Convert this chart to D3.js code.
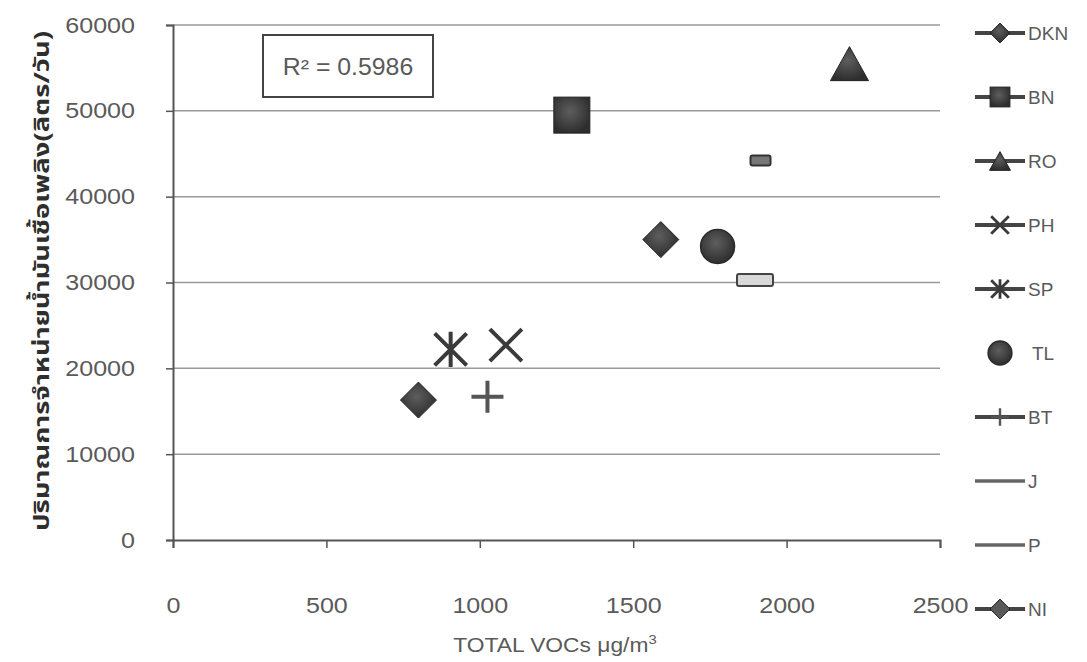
<!DOCTYPE html>
<html>
<head>
<meta charset="utf-8">
<script src="https://cdn.jsdelivr.net/npm/d3@7"></script>
<style>
  html, body { margin: 0; padding: 0; background: #fff; }
  svg { display: block; }
  text { font-family: "Liberation Sans", Arial, sans-serif; }
</style>
</head>
<body>
<svg id="chart" width="1087" height="662"></svg>
<script>
// ---- data ----
const seriesNames = ["DKN", "BN", "RO", "PH", "SP", "TL", "BT", "J", "P", "NI"];
const totalVOCs   = [1590, 1300, 2205, 1085, 905, 1775, 1025, 1915, 1897, 800];
const fuelSales   = [35000, 49500, 55500, 22700, 22200, 34200, 16700, 44200, 30300, 16300];
const xTicks = [0, 500, 1000, 1500, 2000, 2500];
const yTicks = [0, 10000, 20000, 30000, 40000, 50000, 60000];
const rSquaredText = "R² = 0.5986";
const xTitle = "TOTAL VOCs μg/m";
const yTitle = "ปริมาณการจำหน่ายน้ำมันเชื้อเพลิง(ลิตร/วัน)";

// ---- layout ----
const svg = d3.select("#chart");
const x = d3.scaleLinear().domain([0, 2500]).range([173, 940]);
const y = d3.scaleLinear().domain([0, 60000]).range([540, 25]);
const textColor = "#5a5a5a";
const markColor = "#3b3b3b";
const stretch = 1.14;

const defs = svg.append("defs");
const grad = defs.append("radialGradient").attr("id", "mk").attr("cx", "45%").attr("cy", "40%").attr("r", "60%");
grad.append("stop").attr("offset", "0%").attr("stop-color", "#5e5e5e");
grad.append("stop").attr("offset", "100%").attr("stop-color", "#2e2e2e");

// gridlines
svg.append("g").selectAll("line").data(yTicks.filter(d => d > 0)).join("line")
  .attr("x1", x(0)).attr("x2", x(2500))
  .attr("y1", d => y(d)).attr("y2", d => y(d))
  .attr("stroke", "#9a9a9a").attr("stroke-width", 1.5);

// y axis
const yAxis = svg.append("g").attr("transform", `translate(${x(0)},0)`)
  .call(d3.axisLeft(y).tickValues(yTicks).tickSize(7).tickFormat(d3.format("d")));
yAxis.select(".domain").attr("stroke", "#555").attr("stroke-width", 2);
yAxis.selectAll(".tick line").attr("stroke", "#555").attr("stroke-width", 1.5);
yAxis.selectAll(".tick text").attr("x", -38 / stretch).attr("transform", `scale(${stretch},1)`)
  .attr("fill", textColor)
  .style("font-size", "22px").style("font-family", "Liberation Sans, Arial, sans-serif");

// x axis
const xAxis = svg.append("g").attr("transform", `translate(0,${y(0)})`)
  .call(d3.axisBottom(x).tickValues(xTicks).tickSize(8).tickFormat(d3.format("d")));
xAxis.select(".domain").attr("stroke", "#555").attr("stroke-width", 2);
xAxis.selectAll(".tick line").attr("stroke", "#555").attr("stroke-width", 1.5);
xAxis.selectAll(".tick text").attr("y", 57).attr("transform", `scale(${stretch},1)`)
  .attr("fill", textColor)
  .style("font-size", "22px").style("font-family", "Liberation Sans, Arial, sans-serif");

// axis titles
const xt = svg.append("text").attr("transform", `translate(555,652) scale(${stretch},1)`)
  .attr("text-anchor", "middle")
  .attr("fill", textColor).style("font-size", "20px");
xt.append("tspan").text(xTitle);
xt.append("tspan").attr("dy", -8).style("font-size", "13px").text("3");

svg.append("text")
  .attr("transform", "translate(49,281) rotate(-90)")
  .attr("text-anchor", "middle").attr("fill", "#2e2e2e")
  .attr("textLength", 500).attr("lengthAdjust", "spacingAndGlyphs")
  .style("font-size", "22px").style("font-weight", "bold")
  .style("font-family", "'Noto Sans Thai', 'Noto Sans', 'DejaVu Sans', sans-serif")
  .text(yTitle);

// R^2 box
svg.append("rect").attr("x", 263).attr("y", 35).attr("width", 170).attr("height", 62)
  .attr("fill", "#fff").attr("stroke", "#444").attr("stroke-width", 2);
svg.append("text").attr("transform", `translate(348,75) scale(1.08,1)`).attr("text-anchor", "middle")
  .attr("fill", textColor).style("font-size", "23px").text(rSquaredText);

// ---- marker drawing ----
function drawMarker(g, name, s) {
  const fill = "url(#mk)", stroke = "#222";
  switch (name) {
    case "DKN":
    case "NI": {
      const r = 18 * s;
      g.append("path").attr("d", `M0,${-r}L${r},0L0,${r}L${-r},0Z`)
        .attr("fill", name === "NI" && s < 1 ? "#5a5a5a" : fill).attr("stroke", stroke).attr("stroke-width", 1);
      break;
    }
    case "BN": {
      const h = 18 * s;
      g.append("rect").attr("x", -h).attr("y", -h).attr("width", 2 * h).attr("height", 2 * h)
        .attr("fill", fill).attr("stroke", stroke).attr("stroke-width", 1);
      break;
    }
    case "RO": {
      const w = 19 * s, h = 17 * s;
      g.append("path").attr("d", `M0,${-h}L${w},${h}L${-w},${h}Z`)
        .attr("fill", fill).attr("stroke", stroke).attr("stroke-width", 1);
      break;
    }
    case "PH": {
      const r = 16 * s;
      g.append("path").attr("d", `M${-r},${-r}L${r},${r}M${r},${-r}L${-r},${r}`)
        .attr("stroke", "#3a3a3a").attr("stroke-width", 4 * Math.max(s, 0.7)).attr("fill", "none");
      break;
    }
    case "SP": {
      const r = 16 * s;
      g.append("path").attr("d", `M${-r},${-r}L${r},${r}M${r},${-r}L${-r},${r}M0,${-r * 1.1}L0,${r * 1.1}`)
        .attr("stroke", "#3a3a3a").attr("stroke-width", 4 * Math.max(s, 0.7)).attr("fill", "none");
      break;
    }
    case "TL": {
      g.append("circle").attr("r", 17 * s).attr("fill", fill).attr("stroke", "#2a2a2a").attr("stroke-width", 1.5);
      break;
    }
    case "BT": {
      const r = 16 * s;
      g.append("path").attr("d", `M${-r},0L${r},0M0,${-r}L0,${r}`)
        .attr("stroke", "#555").attr("stroke-width", 4 * Math.max(s, 0.6)).attr("fill", "none");
      break;
    }
    case "J": {
      g.append("rect").attr("x", -10 * s).attr("y", -5 * s).attr("width", 20 * s).attr("height", 10 * s)
        .attr("rx", 2).attr("fill", "#777").attr("stroke", "#333").attr("stroke-width", 2);
      break;
    }
    case "P": {
      g.append("rect").attr("x", -18 * s).attr("y", -6 * s).attr("width", 36 * s).attr("height", 12 * s)
        .attr("rx", 2).attr("fill", "#d8d8d8").attr("stroke", "#444").attr("stroke-width", 2);
      break;
    }
  }
}

// points
const pts = svg.append("g").selectAll("g").data(seriesNames).join("g")
  .attr("transform", (d, i) => `translate(${x(totalVOCs[i])},${y(fuelSales[i])})`);
pts.each(function (d) { drawMarker(d3.select(this), d, 1); });

// legend
const ly = d3.scalePoint().domain(seriesNames).range([33, 609]);
const leg = svg.append("g").selectAll("g").data(seriesNames).join("g")
  .attr("transform", d => `translate(1000,${ly(d)})`);
leg.filter(d => d !== "TL").append("line")
  .attr("x1", -25).attr("x2", 25)
  .attr("stroke", d => (d === "J" || d === "P") ? "#666" : "#444")
  .attr("stroke-width", d => (d === "J" || d === "P") ? 3.5 : 4);
leg.each(function (d) {
  const g = d3.select(this);
  if (d === "J" || d === "P") return;
  drawMarker(g, d, d === "TL" ? 0.7 : 0.55);
});
leg.append("text").attr("x", d => d === "TL" ? 32 : 28).attr("dy", "0.36em")
  .attr("fill", textColor).style("font-size", "19px").text(d => d);
</script>
</body>
</html>
